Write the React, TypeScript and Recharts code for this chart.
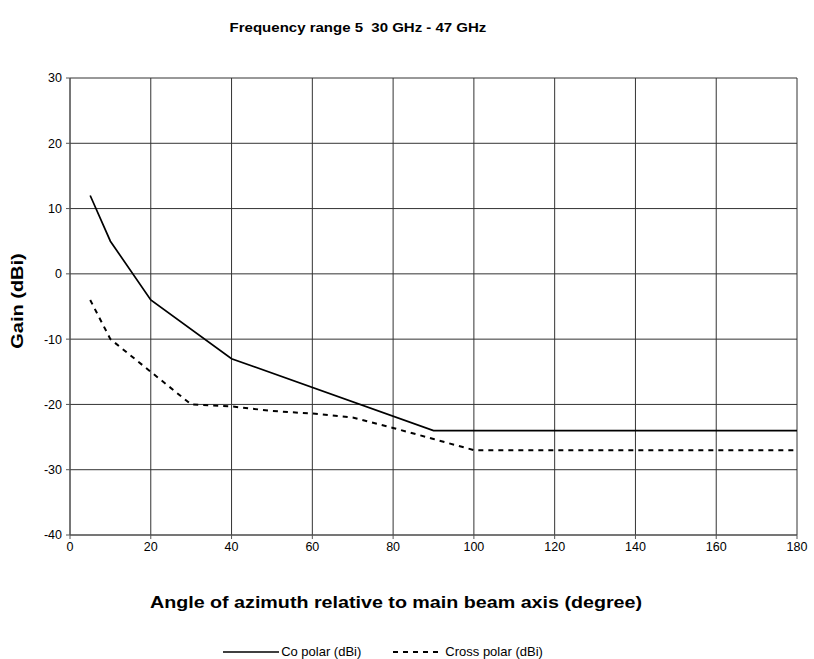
import { LineChart, Line, XAxis, YAxis, CartesianGrid } from 'recharts';

const coAngles = [5, 10, 20, 40, 90, 180];
const coGain = [12, 5, -4, -13, -24, -24];

const crossAngles = [5, 10, 20, 30, 40, 50, 60, 70, 80, 90, 100, 180];
const crossGain = [-4, -10, -15, -20, -20.3, -21, -21.4, -22, -23.6, -25.3, -27, -27];

const xTicks = [0, 20, 40, 60, 80, 100, 120, 140, 160, 180];
const yTicks = [-40, -30, -20, -10, 0, 10, 20, 30];

const coData = coAngles.map((a, i) => ({ angle: a, co: coGain[i] }));
const crossData = crossAngles.map((a, i) => ({ angle: a, cross: crossGain[i] }));

const font = '"Liberation Sans", Arial, sans-serif';

function LegendBox() {
  return (
    <div style={{ display: 'flex', justifyContent: 'center', alignItems: 'center', fontFamily: font, fontSize: 13, color: '#000' }}>
      <svg width={56} height={10}>
        <line x1={0} y1={5} x2={56} y2={5} stroke="#000" strokeWidth={1.5} />
      </svg>
      <span style={{ marginLeft: 2, marginRight: 32 }}>Co polar (dBi)</span>
      <svg width={50} height={10}>
        <line x1={0} y1={5} x2={50} y2={5} stroke="#000" strokeWidth={2} strokeDasharray="5 5" />
      </svg>
      <span style={{ marginLeft: 2 }}>Cross polar (dBi)</span>
    </div>
  );
}

export default function App() {
  return (
    <div style={{ position: 'absolute', left: 0, top: 0, width: 814, height: 659, background: '#fff', fontFamily: font }}>
      <div
        style={{
          position: 'absolute',
          left: 358,
          top: 28,
          transform: 'translate(-50%, -50%) scaleX(1.2)',
          fontSize: 12.5,
          fontWeight: 'bold',
          whiteSpace: 'nowrap',
        }}
      >
        Frequency range 5&nbsp;&nbsp;30 GHz - 47 GHz
      </div>
      <div
        style={{
          position: 'absolute',
          left: 18,
          top: 301,
          transform: 'translate(-50%, -50%) rotate(-90deg) scaleX(1.25)',
          fontSize: 16,
          fontWeight: 'bold',
          whiteSpace: 'nowrap',
        }}
      >
        Gain (dBi)
      </div>
      <div
        style={{
          position: 'absolute',
          left: 396,
          top: 603,
          transform: 'translate(-50%, -50%) scaleX(1.23)',
          fontSize: 16,
          fontWeight: 'bold',
          whiteSpace: 'nowrap',
        }}
      >
        Angle of azimuth relative to main beam axis (degree)
      </div>
      <div style={{ position: 'absolute', left: 0, width: 766, top: 644 }}>
        <LegendBox />
      </div>
      <LineChart width={814} height={659} margin={{ top: 78, right: 17, left: 10, bottom: 94 }}>
        <CartesianGrid stroke="#333" strokeWidth={1} />
        <XAxis
          type="number"
          dataKey="angle"
          domain={[0, 180]}
          ticks={xTicks}
          allowDataOverflow
          tick={{ fill: '#000', fontSize: 12.5, fontFamily: font }}
          stroke="#555"
          tickSize={4}
          tickMargin={3}
          height={30}
        />
        <YAxis
          type="number"
          domain={[-40, 30]}
          ticks={yTicks}
          width={60}
          tick={{ fill: '#000', fontSize: 12.5, fontFamily: font }}
          stroke="#555"
          tickSize={4}
          tickMargin={4}
        />
        <Line
          data={coData}
          dataKey="co"
          name="Co polar (dBi)"
          stroke="#000"
          strokeWidth={1.7}
          dot={false}
          isAnimationActive={false}
        />
        <Line
          data={crossData}
          dataKey="cross"
          name="Cross polar (dBi)"
          stroke="#000"
          strokeWidth={2}
          strokeDasharray="5 5"
          dot={false}
          isAnimationActive={false}
        />
      </LineChart>
    </div>
  );
}
